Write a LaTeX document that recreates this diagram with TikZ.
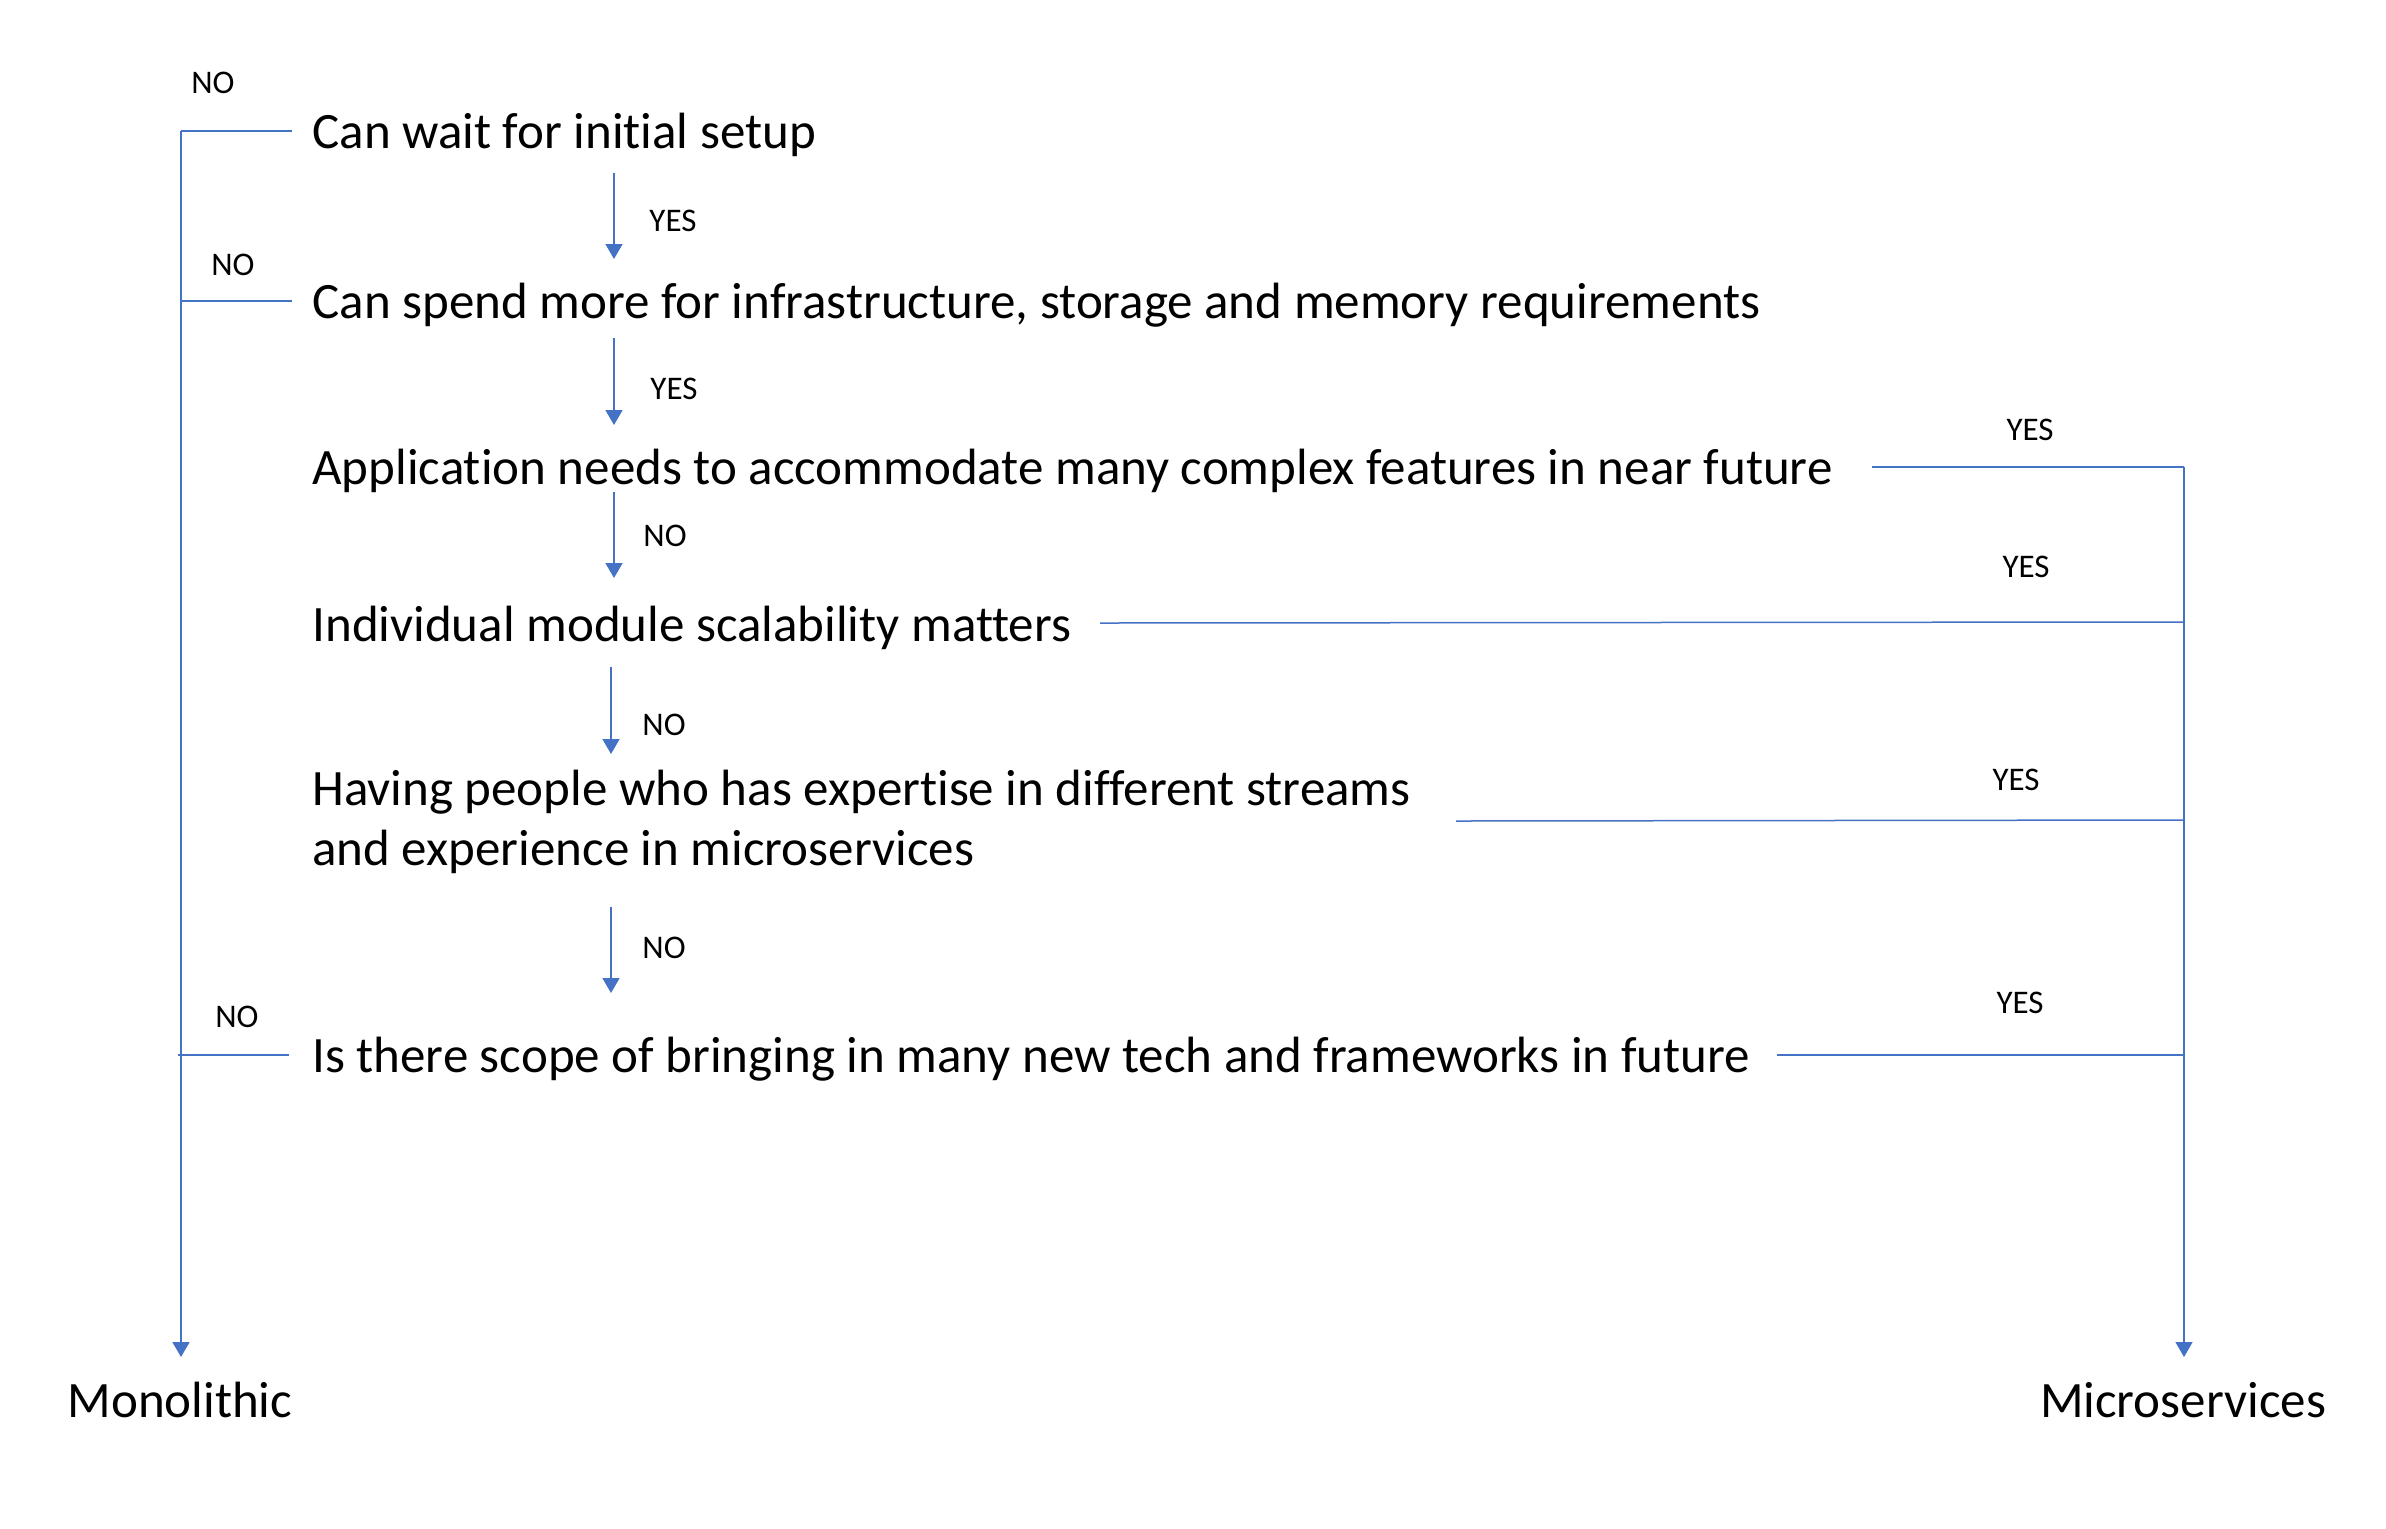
\documentclass[tikz,border=0pt]{standalone}
\usepackage{fontspec}
\setmainfont{Carlito}[Ligatures={NoCommon,NoRare,NoContextual}]
\usetikzlibrary{arrows.meta}
\definecolor{lineblue}{HTML}{4472C4}
\tikzset{
  q/.style={anchor=base west,inner sep=0pt,font=\fontsize{25.5pt}{30pt}\selectfont},
  lbl/.style={anchor=base,inner sep=0pt,font=\fontsize{16.5pt}{20pt}\selectfont},
  conn/.style={draw=lineblue,line width=0.75pt},
  arr/.style={conn,-{Triangle[width=8.5pt,length=7.5pt]}}
}
\begin{document}
\begin{tikzpicture}[x=0.5pt,y=-0.5pt]
\useasboundingbox (0,0) rectangle (2386,1528);
% questions
\node[q] (q1) at (312,148) {Can wait for initial setup};
\node[q] (q2) at (312,318) {Can spend more for infrastructure, storage and memory requirements};
\node[q] (q3) at (312,484) {Application needs to accommodate many complex features in near future};
\node[q] (q4) at (312,641) {Individual module scalability matters};
\node[q] (q5) at (312,805) {Having people who has expertise in different streams};
\node[q] (q5b) at (312,865) {and experience in microservices};
\node[q] (q6) at (312,1072) {Is there scope of bringing in many new tech and frameworks in future};
\node[q,anchor=base] (mono) at (180,1417) {Monolithic};
\node[q,anchor=base] (micro) at (2183,1417) {Microservices};
% labels
\node[lbl] (n1) at (213,93) {NO};
\node[lbl] (y1) at (673,231) {YES};
\node[lbl] (n2) at (233,275) {NO};
\node[lbl] (y2) at (674,399) {YES};
\node[lbl] (n3) at (665,546) {NO};
\node[lbl] (n4) at (664,735) {NO};
\node[lbl] (n5) at (664,958) {NO};
\node[lbl] (n6) at (237,1027) {NO};
\node[lbl] (y3) at (2030,440) {YES};
\node[lbl] (y4) at (2026,577) {YES};
\node[lbl] (y5) at (2016,790) {YES};
\node[lbl] (y6) at (2020,1013) {YES};
% coordinates
\coordinate (L1) at (181,131);
\coordinate (L1e) at (292,131);
\coordinate (L2) at (181,301);
\coordinate (L2e) at (292,301);
\coordinate (L6) at (178,1055);
\coordinate (L6e) at (289,1055);
\coordinate (Lend) at (181,1357);
\coordinate (R3) at (2184,467);
\coordinate (R3s) at (1872,467);
\coordinate (R4) at (2184,622);
\coordinate (R4s) at (1100,623);
\coordinate (R5) at (2184,820);
\coordinate (R5s) at (1456,821);
\coordinate (R6) at (2184,1055);
\coordinate (R6s) at (1777,1055);
\coordinate (Rend) at (2184,1357);
\coordinate (a1s) at (614,173); \coordinate (a1e) at (614,259);
\coordinate (a2s) at (614,338); \coordinate (a2e) at (614,425);
\coordinate (a3s) at (614,492); \coordinate (a3e) at (614,578);
\coordinate (a4s) at (611,667); \coordinate (a4e) at (611,754);
\coordinate (a5s) at (611,907); \coordinate (a5e) at (611,993);
% left trunk
\draw[arr] (L1) -- (Lend);
\draw[conn] (L1) -- (L1e);
\draw[conn] (L2) -- (L2e);
\draw[conn] (L6) -- (L6e);
% right trunk
\draw[arr] (R3) -- (Rend);
\draw[conn] (R3s) -- (R3);
\draw[conn] (R4s) -- (R4);
\draw[conn] (R5s) -- (R5);
\draw[conn] (R6s) -- (R6);
% down arrows
\draw[arr] (a1s) -- (a1e);
\draw[arr] (a2s) -- (a2e);
\draw[arr] (a3s) -- (a3e);
\draw[arr] (a4s) -- (a4e);
\draw[arr] (a5s) -- (a5e);
\end{tikzpicture}
\end{document}
